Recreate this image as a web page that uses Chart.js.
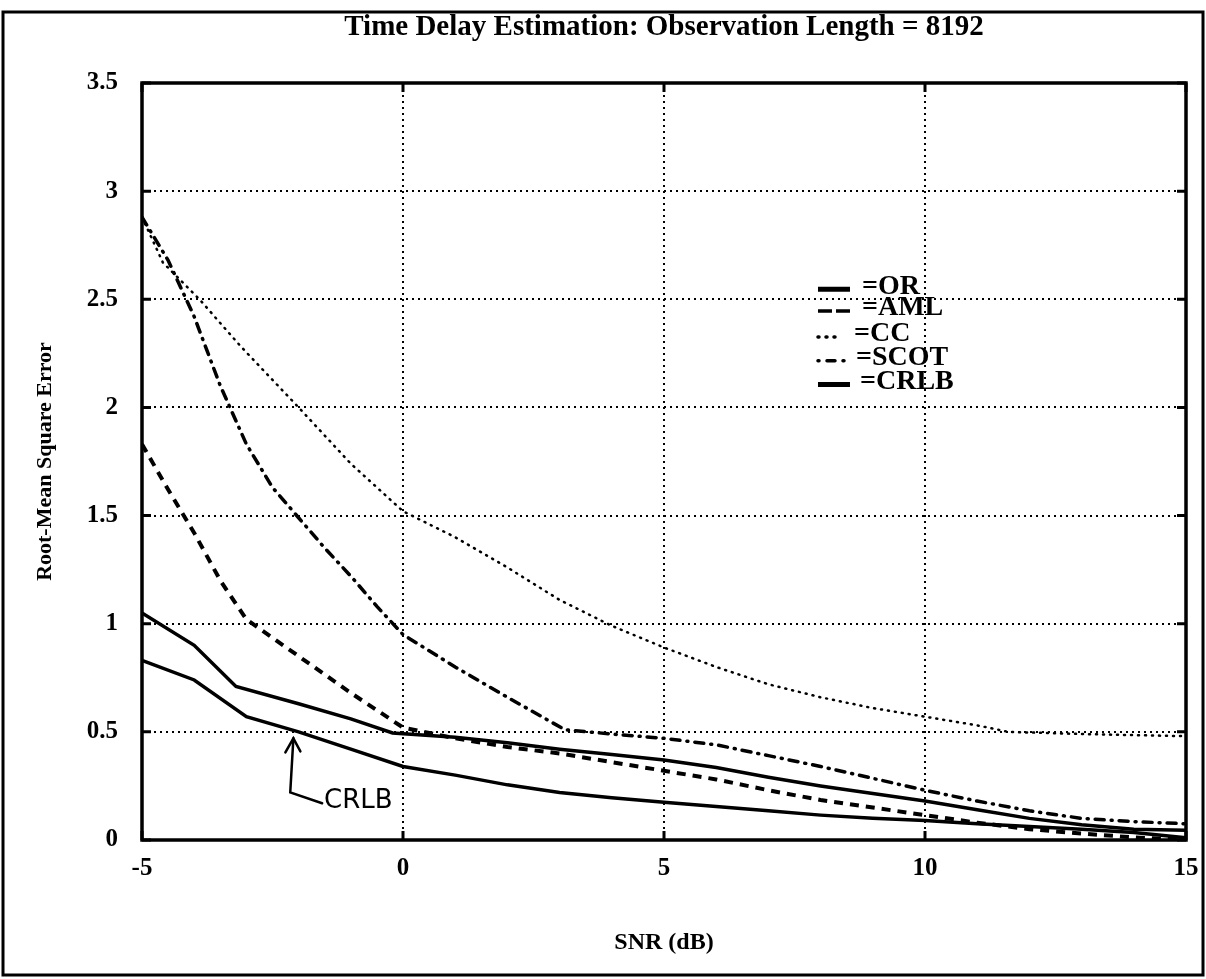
<!DOCTYPE html>
<html>
<head>
<meta charset="utf-8">
<script src="https://cdn.jsdelivr.net/npm/chart.js@4.4.1/dist/chart.umd.min.js"></script>
<style>
  html, body { margin: 0; padding: 0; background: #fff; }
  #wrap { width: 1206px; height: 979px; position: relative; }
</style>
</head>
<body>
<div id="wrap"><canvas id="tde" width="1206" height="979"></canvas></div>
<script>
// Values (SNR in dB, RMSE)
const snrOR = [-5, -4, -3.2, -2, -1, -0.2, 1, 2, 3, 4, 5, 6, 7, 8, 9, 10, 11, 12, 13, 14, 15];
const rmseOR = [1.05, 0.9, 0.71, 0.63, 0.56, 0.495, 0.475, 0.45, 0.42, 0.395, 0.37, 0.335, 0.29, 0.25, 0.215, 0.18, 0.14, 0.1, 0.07, 0.05, 0.045];

const snrAML = [-5, -4.5, -4, -3.5, -3, -2, -1, 0, 1, 2, 3, 4, 5, 6, 7, 8, 9, 10, 11, 12, 13, 14, 15];
const rmseAML = [1.83, 1.62, 1.42, 1.2, 1.02, 0.85, 0.68, 0.52, 0.47, 0.43, 0.4, 0.36, 0.32, 0.28, 0.23, 0.185, 0.15, 0.115, 0.08, 0.05, 0.03, 0.012, 0.0];

const snrCC = [-5, -4.6, -3.9, -3.1, -2, -1, 0, 1, 2, 3, 4, 5, 6, 7, 8, 9, 10, 11, 11.6, 13, 15];
const rmseCC = [2.88, 2.67, 2.5, 2.28, 2.0, 1.74, 1.52, 1.4, 1.26, 1.11, 0.99, 0.89, 0.8, 0.72, 0.66, 0.61, 0.57, 0.53, 0.5, 0.49, 0.48];

const snrSCOT = [-5, -4.5, -4, -3.5, -3, -2.5, -2, -1.5, -1, -0.5, 0, 1, 2, 3.1, 4, 5, 6, 7, 8, 9, 10, 11, 12, 13, 14, 15];
const rmseSCOT = [2.88, 2.68, 2.42, 2.1, 1.83, 1.63, 1.49, 1.35, 1.22, 1.08, 0.95, 0.8, 0.66, 0.51, 0.49, 0.47, 0.44, 0.39, 0.34, 0.285, 0.23, 0.18, 0.135, 0.1, 0.085, 0.075];

const snrCRLB = [-5, -4, -3, -2, -1, 0, 1, 2, 3, 4, 5, 6, 7, 8, 9, 10, 11, 12, 13, 14, 15];
const rmseCRLB = [0.83, 0.74, 0.57, 0.5, 0.42, 0.34, 0.3, 0.255, 0.22, 0.195, 0.175, 0.155, 0.135, 0.115, 0.1, 0.09, 0.075, 0.062, 0.05, 0.035, 0.01];

const xTicks = [-5, 0, 5, 10, 15];
const yTicks = [0, 0.5, 1, 1.5, 2, 2.5, 3, 3.5];

const chartTitle = 'Time Delay Estimation: Observation Length = 8192';
const legendNames = ['OR', 'AML', 'CC', 'SCOT', 'CRLB'];

const serif = '"Liberation Serif", "DejaVu Serif", serif';

const pts = (xs, ys) => xs.map((x, i) => ({ x: x, y: ys[i] }));

// line styles, one per series
const styles = {
    OR:   { width: 3.5, dash: [], cap: 'butt' },
    AML:  { width: 4, dash: [9, 7], cap: 'butt' },
    CC:   { width: 2.5, dash: [1, 6], cap: 'round' },
    SCOT: { width: 3.5, dash: [9, 7, 1, 7], cap: 'round' },
    CRLB: { width: 3.5, dash: [], cap: 'butt' }
};

const mkSet = (name, data) => ({
    label: name,
    data: data,
    borderColor: '#000',
    borderWidth: styles[name].width,
    borderDash: styles[name].dash,
    borderCapStyle: styles[name].cap,
    pointRadius: 0,
    tension: 0,
    fill: false
});

// frame, title, legend and the CRLB arrow note
const decorPlugin = {
    id: 'decor',
    beforeDraw(chart) {
        const ctx = chart.ctx;
        ctx.save();
        ctx.fillStyle = '#fff';
        ctx.fillRect(0, 0, chart.width, chart.height);
        ctx.strokeStyle = '#000';
        ctx.lineWidth = 3;
        ctx.strokeRect(3, 12, chart.width - 6, chart.height - 16);
        ctx.restore();
    },
    afterDraw(chart) {
        const ctx = chart.ctx;
        const a = chart.chartArea;
        const xs = chart.scales.x;
        const ys = chart.scales.y;
        ctx.save();

        // plot frame
        ctx.strokeStyle = '#000';
        ctx.lineWidth = 3.5;
        ctx.setLineDash([]);
        ctx.strokeRect(a.left, a.top, a.right - a.left, a.bottom - a.top);

        // small inward tick marks
        ctx.lineWidth = 3;
        yTicks.forEach(v => {
            const y = ys.getPixelForValue(v);
            ctx.beginPath();
            ctx.moveTo(a.left, y); ctx.lineTo(a.left + 9, y);
            ctx.moveTo(a.right, y); ctx.lineTo(a.right - 9, y);
            ctx.stroke();
        });
        xTicks.forEach(v => {
            const x = xs.getPixelForValue(v);
            ctx.beginPath();
            ctx.moveTo(x, a.bottom); ctx.lineTo(x, a.bottom - 9);
            ctx.moveTo(x, a.top); ctx.lineTo(x, a.top + 9);
            ctx.stroke();
        });

        // title
        ctx.fillStyle = '#000';
        ctx.font = 'bold 29px ' + serif;
        ctx.textAlign = 'center';
        ctx.textBaseline = 'middle';
        ctx.fillText(chartTitle, (a.left + a.right) / 2, 28);

        // legend
        const lx = xs.getPixelForValue(7.95);
        const rowY = [ys.getPixelForValue(2.56), ys.getPixelForValue(2.46), ys.getPixelForValue(2.34),
                      ys.getPixelForValue(2.23), ys.getPixelForValue(2.12)];
        const textX = [lx + 44, lx + 44, lx + 36, lx + 38, lx + 42];
        ctx.font = 'bold 28px ' + serif;
        ctx.textAlign = 'left';
        legendNames.forEach((name, i) => {
            const s = styles[name];
            const y = rowY[i];
            ctx.lineWidth = name === 'CRLB' || name === 'OR' ? 5 : 3.5;
            ctx.lineCap = s.cap;
            ctx.setLineDash(name === 'CC' ? [1, 7] : (name === 'SCOT' ? [1, 8, 8, 8] : (name === 'AML' ? [14, 4] : [])));
            ctx.beginPath();
            ctx.moveTo(lx, y + 3);
            ctx.lineTo(lx + (name === 'CC' ? 22 : 32), y + 3);
            ctx.stroke();
            ctx.setLineDash([]);
            ctx.fillText('=' + name, textX[i], y);
        });

        // CRLB pointer
        const tipX = xs.getPixelForValue(-2.1), tipY = ys.getPixelForValue(0.47);
        const elX = xs.getPixelForValue(-2.16), elY = ys.getPixelForValue(0.22);
        const endX = xs.getPixelForValue(-1.55), endY = ys.getPixelForValue(0.17);
        ctx.lineWidth = 2.5;
        ctx.lineCap = 'round';
        ctx.beginPath();
        ctx.moveTo(tipX, tipY); ctx.lineTo(elX, elY); ctx.lineTo(endX, endY);
        ctx.stroke();
        ctx.beginPath();
        ctx.moveTo(tipX - 8, tipY + 14); ctx.lineTo(tipX, tipY); ctx.lineTo(tipX + 7, tipY + 13);
        ctx.stroke();
        ctx.font = '26px "DejaVu Sans", sans-serif';
        ctx.textBaseline = 'middle';
        ctx.fillText('CRLB', endX + 2, endY - 2);

        ctx.restore();
    }
};

const ctx = document.getElementById('tde').getContext('2d');
new Chart(ctx, {
    type: 'line',
    data: {
        datasets: [
            mkSet('OR', pts(snrOR, rmseOR)),
            mkSet('AML', pts(snrAML, rmseAML)),
            mkSet('CC', pts(snrCC, rmseCC)),
            mkSet('SCOT', pts(snrSCOT, rmseSCOT)),
            mkSet('CRLB', pts(snrCRLB, rmseCRLB))
        ]
    },
    options: {
        responsive: false,
        animation: false,
        devicePixelRatio: 1,
        layout: { padding: { left: 0, right: 20, top: 83, bottom: 0 } },
        plugins: {
            legend: { display: false },
            tooltip: { enabled: false },
            title: { display: false }
        },
        scales: {
            x: {
                type: 'linear',
                min: -5,
                max: 15,
                afterBuildTicks: s => { s.ticks = xTicks.map(v => ({ value: v })); },
                afterFit: s => { s.height = 139; s.paddingLeft = 0; s.paddingRight = 0; },
                ticks: {
                    color: '#000',
                    font: { family: serif, size: 25, weight: 'bold' },
                    padding: 14,
                    callback: v => String(v)
                },
                grid: { color: '#000', lineWidth: 2, tickLength: 0, drawTicks: false },
                border: { display: false, dash: [2, 4] },
                title: {
                    display: true,
                    text: 'SNR (dB)',
                    color: '#000',
                    font: { family: serif, size: 24, weight: 'bold' },
                    padding: { top: 0, bottom: 22 }
                }
            },
            y: {
                min: 0,
                max: 3.5,
                afterBuildTicks: s => { s.ticks = yTicks.map(v => ({ value: v })); },
                afterFit: s => { s.width = 142; },
                ticks: {
                    color: '#000',
                    font: { family: serif, size: 25, weight: 'bold' },
                    padding: 24,
                    callback: v => String(v)
                },
                grid: { color: '#000', lineWidth: 2, tickLength: 0, drawTicks: false },
                border: { display: false, dash: [2, 4] },
                title: {
                    display: true,
                    text: 'Root-Mean Square Error',
                    color: '#000',
                    font: { family: serif, size: 22, weight: 'bold' },
                    padding: { top: 32, bottom: 0 }
                }
            }
        }
    },
    plugins: [decorPlugin]
});
</script>
</body>
</html>
